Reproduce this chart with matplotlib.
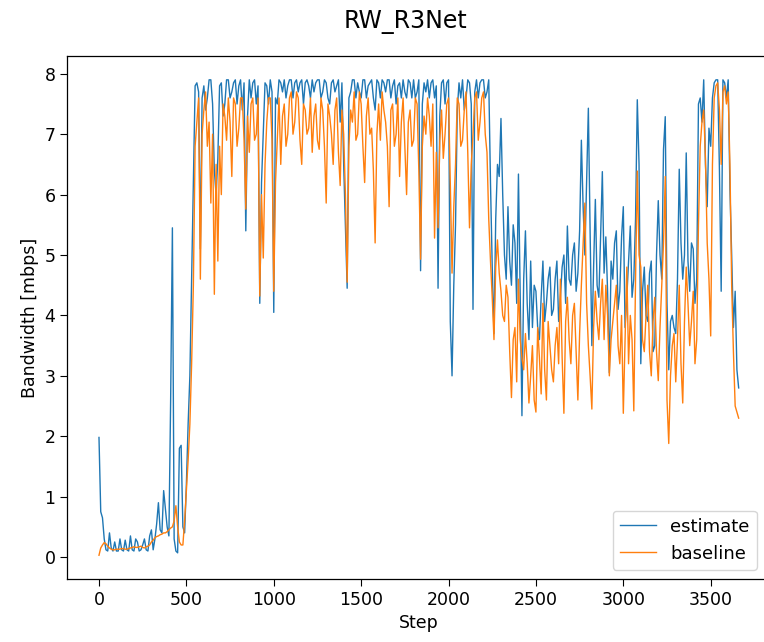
import numpy as np
import matplotlib
matplotlib.use("Agg")
import matplotlib.pyplot as plt

# readings at steps 0, 20, 40, ... 3660
estimate = [
    1.98, 0.65, 0.12, 0.40, 0.10, 0.10, 0.30, 0.10, 0.12, 0.35,
    0.10, 0.25, 0.12, 0.30, 0.10, 0.45, 0.30, 0.90, 0.40, 0.80,
    0.35, 5.45, 0.10, 1.80, 0.50, 1.20, 3.00, 6.10, 7.85, 5.10,
    7.80, 7.60, 7.90, 6.40, 6.60, 7.85, 7.50, 7.90, 7.70, 7.90,
    7.80, 7.40, 5.40, 7.90, 7.85, 7.50, 4.20, 7.00, 7.80, 7.90,
    4.05, 7.50, 7.85, 7.90, 7.80, 7.90, 7.85, 7.70, 7.90, 7.85,
    7.80, 7.90, 7.85, 7.90, 7.70, 7.85, 7.50, 7.90, 7.80, 7.20,
    6.50, 4.45, 7.70, 7.90, 7.85, 7.60, 7.90, 7.80, 7.90, 7.40,
    7.85, 7.90, 7.70, 7.90, 7.80, 7.50, 7.85, 7.90, 7.60, 7.85,
    7.90, 7.70, 4.74, 7.85, 7.90, 7.85, 7.60, 4.45, 7.85, 7.50,
    7.90, 3.00, 5.50, 7.85, 7.90, 7.60, 7.85, 4.10, 7.90, 7.85,
    7.90, 7.70, 6.20, 3.70, 6.50, 7.26, 5.00, 5.80, 4.50, 5.20,
    6.34, 2.34, 5.40, 3.60, 3.80, 4.40, 3.60, 4.90, 4.20, 4.80,
    4.10, 4.90, 4.30, 5.00, 5.48, 4.50, 5.20, 4.70, 6.90, 5.00,
    7.43, 3.50, 5.92, 4.30, 6.38, 5.30, 3.05, 4.60, 5.40, 4.40,
    5.80, 4.30, 5.48, 4.60, 7.57, 3.20, 4.80, 3.90, 4.90, 3.50,
    5.90, 4.60, 7.29, 3.10, 4.00, 3.70, 6.42, 4.60, 6.69, 4.40,
    5.10, 4.60, 7.60, 7.90, 5.80, 6.80, 7.85, 7.90, 4.40, 7.85,
    7.90, 5.00, 4.40, 2.80,
]
# readings at steps 10, 30, 50, ... 3650
estimate_mid = [
    0.75, 0.30, 0.10, 0.15, 0.25, 0.10, 0.12, 0.28, 0.10, 0.12,
    0.30, 0.10, 0.20, 0.12, 0.35, 0.12, 0.55, 0.45, 1.10, 0.50,
    2.60, 0.30, 0.07, 1.85, 0.40, 2.20, 4.60, 7.80, 7.70, 7.60,
    7.40, 7.90, 7.50, 6.00, 7.80, 7.30, 7.90, 7.60, 7.85, 7.50,
    7.90, 7.85, 7.30, 7.60, 7.90, 7.80, 6.20, 7.85, 7.50, 7.70,
    7.60, 7.90, 7.70, 7.60, 7.90, 7.60, 7.90, 7.85, 7.50, 7.90,
    7.60, 7.70, 7.90, 7.60, 7.90, 7.60, 7.85, 7.70, 7.90, 7.85,
    5.50, 7.60, 7.90, 7.60, 7.70, 7.90, 7.60, 7.85, 7.60, 7.90,
    7.60, 7.85, 7.90, 7.60, 7.90, 7.80, 7.60, 7.70, 7.90, 7.60,
    7.60, 7.90, 7.50, 7.70, 7.60, 7.90, 7.80, 7.30, 7.90, 7.85,
    3.90, 4.50, 7.40, 7.60, 7.40, 7.90, 7.50, 7.70, 7.60, 7.90,
    7.60, 7.90, 4.80, 5.60, 6.30, 6.00, 4.60, 4.90, 5.50, 4.20,
    4.30, 4.60, 4.20, 4.90, 4.50, 3.80, 4.30, 3.90, 4.60, 4.00,
    4.60, 3.90, 4.80, 4.20, 4.60, 5.00, 4.40, 5.40, 5.80, 6.20,
    5.40, 4.80, 4.50, 5.30, 4.70, 4.40, 4.90, 5.20, 4.10, 5.30,
    3.80, 4.90, 4.30, 5.60, 6.50, 4.40, 4.00, 4.70, 3.40, 5.00,
    5.00, 6.75, 4.20, 3.90, 3.80, 4.60, 5.20, 5.00, 4.90, 5.20,
    4.20, 7.50, 7.20, 6.50, 7.10, 7.60, 7.90, 6.40, 7.90, 7.60,
    6.10, 3.80, 3.10,
]

baseline = [
    0.03, 0.20, 0.22, 0.15, 0.12, 0.13, 0.13, 0.14, 0.13, 0.15,
    0.17, 0.16, 0.18, 0.15, 0.18, 0.25, 0.32, 0.35, 0.38, 0.40,
    0.45, 0.50, 0.85, 0.25, 0.20, 1.10, 2.20, 4.50, 7.20, 4.60,
    7.40, 6.80, 5.86, 4.35, 4.90, 6.00, 7.30, 7.60, 6.30, 7.50,
    7.10, 7.60, 5.76, 6.70, 7.60, 7.00, 4.32, 4.95, 7.20, 7.60,
    4.40, 6.90, 6.50, 7.50, 7.00, 7.70, 7.20, 7.60, 6.50, 7.40,
    7.10, 6.70, 7.50, 6.75, 7.40, 5.86, 7.30, 6.50, 7.60, 6.15,
    7.00, 4.55, 7.40, 7.70, 7.00, 7.50, 6.20, 7.60, 7.10, 5.20,
    7.50, 7.70, 7.20, 5.80, 7.50, 7.00, 6.30, 7.60, 6.00, 7.40,
    6.90, 7.50, 4.93, 7.30, 7.60, 6.80, 5.28, 5.45, 7.40, 7.00,
    7.60, 4.70, 6.50, 7.50, 6.90, 7.70, 5.45, 7.00, 7.70, 7.20,
    7.70, 6.70, 4.90, 3.60, 5.25, 4.40, 3.90, 4.30, 2.64, 3.80,
    4.60, 3.30, 3.70, 2.55, 3.50, 2.40, 3.30, 4.20, 2.60, 3.50,
    2.90, 3.80, 4.60, 2.38, 4.30, 3.20, 4.20, 2.60, 4.50, 5.86,
    3.50, 2.45, 4.40, 3.60, 4.60, 4.50, 3.00, 3.90, 4.50, 3.20,
    2.38, 4.80, 4.00, 2.42, 6.39, 4.80, 3.40, 4.50, 3.00, 4.30,
    2.92, 4.50, 6.30, 1.88, 3.50, 2.90, 4.50, 2.55, 4.80, 3.50,
    4.40, 3.60, 6.80, 7.40, 5.20, 3.66, 7.60, 7.85, 6.50, 7.80,
    7.70, 4.50, 2.50, 2.30,
]
baseline_mid = [
    0.15, 0.24, 0.18, 0.13, 0.12, 0.13, 0.14, 0.13, 0.14, 0.16,
    0.16, 0.17, 0.16, 0.17, 0.20, 0.28, 0.34, 0.37, 0.40, 0.42,
    0.48, 0.60, 0.50, 0.20, 0.60, 1.60, 3.20, 6.80, 7.60, 7.00,
    7.70, 7.20, 7.00, 6.50, 6.80, 7.50, 6.90, 7.20, 7.60, 6.80,
    7.60, 6.90, 7.30, 7.50, 6.90, 7.60, 6.00, 6.50, 7.60, 6.90,
    6.20, 7.60, 7.30, 6.80, 7.60, 7.00, 7.70, 6.90, 7.50, 7.00,
    7.60, 7.30, 6.90, 7.60, 6.80, 7.50, 7.00, 7.40, 6.70, 7.40,
    6.00, 6.80, 7.20, 6.90, 7.70, 6.80, 7.30, 7.00, 6.40, 7.00,
    6.90, 7.40, 6.80, 7.40, 6.80, 7.60, 7.20, 6.80, 7.20, 6.80,
    7.60, 6.40, 6.80, 7.00, 7.30, 7.50, 6.70, 6.90, 6.60, 7.50,
    6.20, 5.80, 7.60, 6.80, 7.40, 6.70, 6.50, 7.60, 6.90, 7.60,
    7.00, 5.60, 4.30, 4.80, 4.70, 4.00, 4.50, 3.40, 3.60, 2.90,
    3.60, 3.10, 3.20, 3.00, 2.60, 3.80, 2.70, 3.10, 3.90, 3.10,
    3.50, 3.20, 3.30, 3.90, 3.60, 4.00, 3.40, 3.70, 5.20, 4.20,
    3.00, 3.80, 3.90, 4.20, 3.60, 4.00, 3.60, 4.20, 3.50, 4.00,
    3.60, 3.20, 3.60, 4.60, 5.00, 3.60, 4.00, 3.40, 3.90, 3.40,
    3.80, 5.20, 2.60, 3.00, 3.70, 3.60, 3.20, 3.90, 4.20, 3.90,
    3.20, 5.50, 7.20, 6.60, 4.60, 6.50, 7.80, 7.40, 7.70, 7.50,
    6.50, 3.40, 2.40,
]


def merge(even, odd):
    out = np.empty(len(even) + len(odd))
    out[0::2] = even
    out[1::2] = odd
    return out


steps = np.arange(0, 3661, 10)
est = merge(estimate, estimate_mid)
base = merge(baseline, baseline_mid)

plt.rcParams['font.size'] = 12.5

fig = plt.figure(figsize=(7.64, 6.42), dpi=100)
ax = fig.add_axes([0.0877, 0.0981, 0.921, 0.8146])

ax.plot(steps, est, color='#1f77b4', lw=1.0, label='estimate')
ax.plot(steps, base, color='#ff7f0e', lw=1.0, label='baseline')

ax.set_xlabel('Step')
ax.set_ylabel('Bandwidth [mbps]')
ax.tick_params(length=4.8)
for sp in ax.spines.values():
    sp.set_linewidth(0.9)

ax.legend(loc='lower right', bbox_to_anchor=(757 / 764, 72 / 642),
          bbox_transform=fig.transFigure, borderaxespad=0, fontsize=13)

fig.text(405 / 764, 1 - 22 / 642, 'RW_R3Net', ha='center', va='center',
         fontsize=17)

fig.savefig('out.png', dpi=100)
